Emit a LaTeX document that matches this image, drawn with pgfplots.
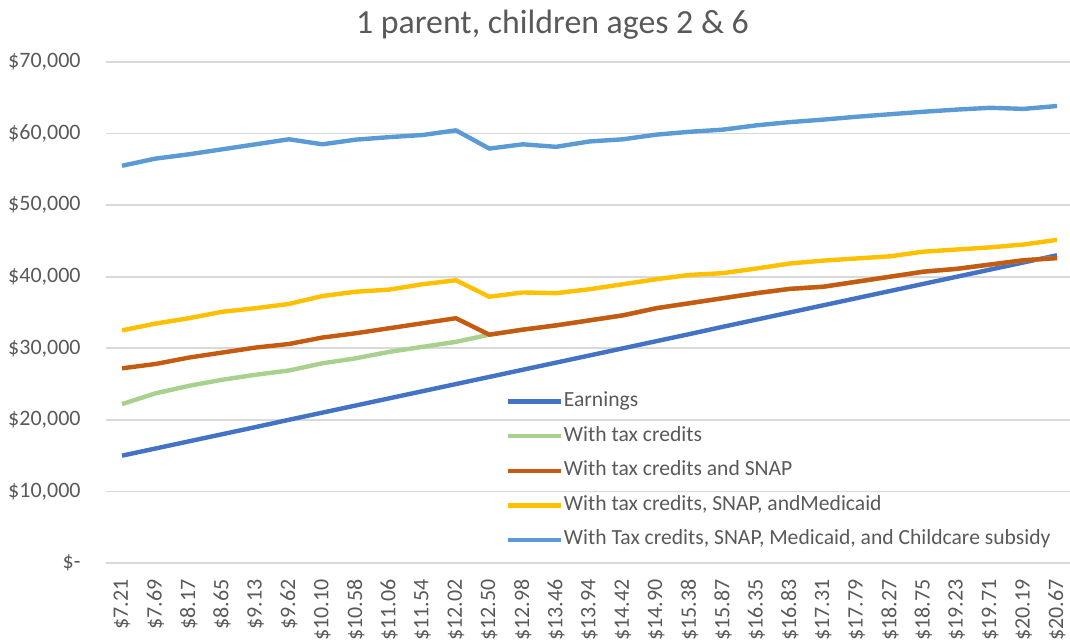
\documentclass[border=0pt]{standalone}
\usepackage{fontspec}
\setmainfont{Carlito}
\usepackage{pgfplots}
\usepackage{pgfplotstable}
\pgfplotsset{compat=1.18}
\definecolor{cEarn}{HTML}{4472C4}
\definecolor{cTax}{HTML}{A9D18E}
\definecolor{cSnap}{HTML}{C55A11}
\definecolor{cMed}{HTML}{FFC000}
\definecolor{cAll}{HTML}{5B9BD5}
\definecolor{cGrid}{HTML}{D9D9D9}
\definecolor{cText}{HTML}{595959}
\pgfplotstableread{
i earn tax snap med all
0  14997 22200 27200 32500 55500
1  15995 23700 27800 33450 56500
2  16994 24750 28700 34200 57100
3  17992 25600 29400 35100 57800
4  18990 26300 30100 35600 58500
5  20010 26900 30600 36200 59200
6  21008 27900 31500 37300 58500
7  22006 28600 32100 37900 59150
8  23005 29500 32800 38200 59500
9  24003 30200 33500 38950 59800
10 25002 30900 34200 39500 60450
11 26000 31900 31900 37200 57900
12 26998 32600 32600 37800 58500
13 27997 33200 33200 37700 58150
14 28995 33900 33900 38250 58900
15 29994 34600 34600 38950 59200
16 30992 35600 35600 39650 59850
17 31990 36300 36300 40250 60250
18 33010 37000 37000 40500 60550
19 34008 37700 37700 41150 61150
20 35006 38300 38300 41850 61600
21 36005 38600 38600 42250 61950
22 37003 39300 39300 42550 62350
23 38002 40000 40000 42850 62700
24 39000 40700 40700 43500 63050
25 39998 41100 41100 43800 63350
26 40997 41700 41700 44100 63600
27 41995 42300 42300 44500 63450
28 42994 42600 42600 45150 63850
}\datatable
\begin{document}
\begin{tikzpicture}
\begin{axis}[
  at={(0,0)}, anchor=south west,
  scale only axis, width=482pt, height=250.5pt,
  xmin=-0.48, xmax=28.39, ymin=0, ymax=70000,
  axis line style={draw=none},
  scaled ticks=false,
  ymajorgrids, grid style={cGrid, line width=0.9pt},
  major tick length=0pt,
  xtick={0,...,28},
  xticklabels={\$7.21,\$7.69,\$8.17,\$8.65,\$9.13,\$9.62,\$10.10,\$10.58,\$11.06,\$11.54,\$12.02,\$12.50,\$12.98,\$13.46,\$13.94,\$14.42,\$14.90,\$15.38,\$15.87,\$16.35,\$16.83,\$17.31,\$17.79,\$18.27,\$18.75,\$19.23,\$19.71,\$20.19,\$20.67},
  ytick={0,10000,...,70000},
  yticklabels={{\$-\hspace{5pt}},{\$10,000},{\$20,000},{\$30,000},{\$40,000},{\$50,000},{\$60,000},{\$70,000}},
  xticklabel style={rotate=90, anchor=east, inner sep=0pt, font=\fontsize{11}{12}\selectfont, text=cText},
  xticklabel shift=8pt,
  yticklabel style={anchor=east, inner sep=0pt, font=\fontsize{11}{12}\selectfont, text=cText},
  yticklabel shift=12.5pt,
  legend style={at={(0.414,0.341)}, anchor=north west, draw=none, fill=none,
    inner sep=0pt, row sep=8.3pt, column sep=0.5pt,
    font=\fontsize{10.8}{12}\selectfont, text=cText,
    nodes={inner sep=0pt, text height=7pt, text depth=2pt}},
  legend cell align=left,
  legend image code/.code={\draw[#1, line width=2.2pt] (0pt,0pt) -- (26.5pt,0pt);},
  every axis plot/.append style={line width=2.2pt, line join=round, no markers},
]
\addplot[cEarn] table[x=i, y=earn] {\datatable};
\addlegendentry{Earnings}
\addplot[cTax] table[x=i, y=tax] {\datatable};
\addlegendentry{With tax credits}
\addplot[cSnap] table[x=i, y=snap] {\datatable};
\addlegendentry{With tax credits and SNAP}
\addplot[cMed] table[x=i, y=med] {\datatable};
\addlegendentry{With tax credits, SNAP, andMedicaid}
\addplot[cAll] table[x=i, y=all] {\datatable};
\addlegendentry{With Tax credits, SNAP, Medicaid, and Childcare subsidy}
\end{axis}
\node[anchor=base, text=cText, font=\fontsize{16.9}{19}\selectfont] at (223.25pt,264.85pt) {1 parent, children ages 2 \& 6};
\pgfresetboundingbox
\useasboundingbox (-53pt,-38.5pt) rectangle (482pt,281.5pt);
\end{tikzpicture}
\end{document}
